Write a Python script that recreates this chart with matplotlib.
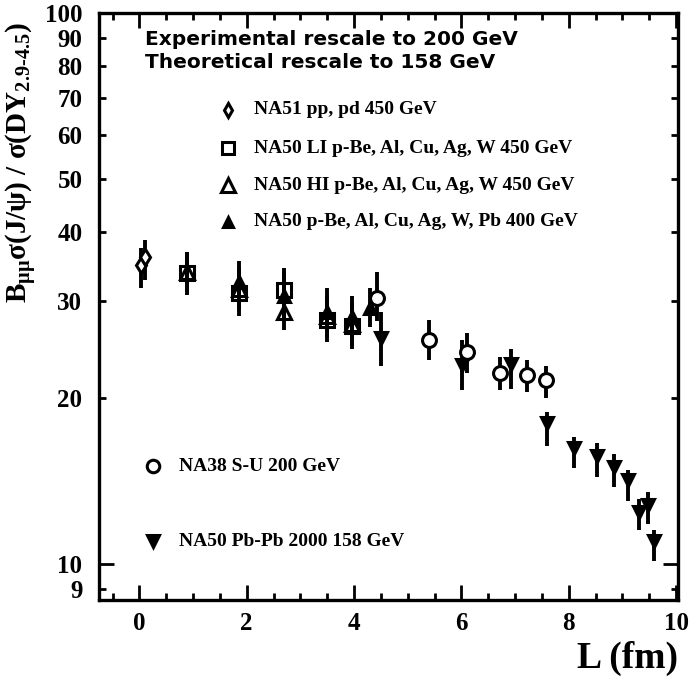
import numpy as np
import matplotlib
matplotlib.use('Agg')
import matplotlib.pyplot as plt
from matplotlib.ticker import FixedLocator, FixedFormatter

plt.rcParams['font.family'] = 'Liberation Serif'
plt.rcParams['font.weight'] = 'bold'
plt.rcParams['mathtext.fontset'] = 'custom'
plt.rcParams['mathtext.rm'] = 'Liberation Serif:bold'
plt.rcParams['mathtext.it'] = 'Liberation Serif:bold'
plt.rcParams['mathtext.bf'] = 'Liberation Serif:bold'

# NA51 pp, pd 450 GeV
na51_L = [0.03, 0.10]
na51_y = [34.9, 36.1]
na51_lo = [3.2, 3.3]
na51_hi = [2.6, 2.6]

# NA50 LI 450 GeV (open squares)
li_L = [0.89, 1.85, 2.69, 3.49, 3.96]
li_y = [33.7, 31.0, 31.4, 27.7, 27.0]
li_lo = [2.9, 2.8, 2.8, 2.4, 2.4]
li_hi = [3.2, 3.0, 3.0, 2.6, 2.6]

# NA50 HI 450 GeV (open triangles)
hi_L = [0.89, 1.85, 2.69, 3.49, 3.96]
hi_y = [33.9, 31.6, 28.7, 28.2, 27.3]
hi_lo = [2.8, 2.7, 2.1, 2.4, 2.4]
hi_hi = [3.0, 3.0, 2.9, 2.6, 2.6]

# NA50 400 GeV (filled triangles)
p400_L = [1.85, 2.69, 3.49, 3.96, 4.30]
p400_y = [32.5, 30.6, 28.7, 28.1, 29.2]
p400_lo = [3.2, 3.0, 2.8, 2.8, 2.3]
p400_hi = [3.0, 3.4, 3.0, 2.5, 2.5]

# NA38 S-U 200 GeV
na38_L = [4.42, 5.40, 6.10, 6.71, 7.23, 7.58]
na38_y = [30.4, 25.5, 24.2, 22.2, 22.0, 21.6]
na38_lo = [2.8, 2.1, 2.0, 1.5, 1.5, 1.6]
na38_hi = [3.5, 2.2, 2.0, 1.5, 1.4, 1.3]

# NA50 Pb-Pb 2000 158 GeV
pb_L = [4.50, 6.01, 6.92, 7.59, 8.10, 8.52, 8.85, 9.11, 9.30, 9.47, 9.58]
pb_y = [25.7, 23.0, 23.1, 18.0, 16.2, 15.7, 15.0, 14.2, 12.4, 12.8, 11.0]
pb_lo = [2.8, 2.3, 2.3, 1.6, 1.3, 1.3, 1.2, 1.2, 0.9, 1.0, 0.9]
pb_hi = [2.9, 2.5, 1.5, 0.9, 0.8, 0.9, 0.8, 0.6, 0.7, 0.7, 0.5]

ymajor = [10, 100]
yminor = [9, 20, 30, 40, 50, 60, 70, 80, 90]

fig = plt.figure(figsize=(6.93, 6.88), dpi=100)
ax = fig.add_axes([0.143, 0.128, 0.835, 0.853])

ebkw = dict(ls='none', color='black', ecolor='black', elinewidth=2.8,
            capsize=0, mec='black', mew=2.2)

ax.errorbar(na51_L, na51_y, yerr=[na51_lo, na51_hi], fmt='d', ms=8,
            mfc='white', **ebkw)
ax.errorbar(li_L, li_y, yerr=[li_lo, li_hi], fmt='s', ms=10,
            mfc='none', **ebkw)
ax.errorbar(hi_L, hi_y, yerr=[hi_lo, hi_hi], fmt='^', ms=10,
            mfc='none', **ebkw)
ax.errorbar(p400_L, p400_y, yerr=[p400_lo, p400_hi], fmt='^', ms=9,
            mfc='black', **ebkw)
ax.errorbar(na38_L, na38_y, yerr=[na38_lo, na38_hi], fmt='o', ms=10,
            mfc='white', **ebkw)
ax.errorbar(pb_L, pb_y, yerr=[pb_lo, pb_hi], fmt='v', ms=8.5,
            mfc='black', **ebkw)

ax.set_yscale('log')
ax.set_xlim(-0.75, 10.03)
ax.set_ylim(8.6, 100)

ax.yaxis.set_major_locator(FixedLocator(ymajor))
ax.yaxis.set_major_formatter(FixedFormatter([str(t) for t in ymajor]))
ax.yaxis.set_minor_locator(FixedLocator(yminor))
ax.yaxis.set_minor_formatter(FixedFormatter([str(t) for t in yminor]))
ax.set_xticks([0, 2, 4, 6, 8, 10])
ax.set_xticks(np.arange(-0.5, 10.0, 0.5), minor=True)

ax.tick_params(which='both', direction='in', top=True, right=True,
               width=2, labelsize=18)
ax.tick_params(which='major', length=11)
ax.tick_params(which='minor', length=5)
ax.tick_params(axis='x', which='both', pad=9)
ax.tick_params(axis='y', which='both', pad=12)
for lab in (ax.get_xticklabels() + ax.get_yticklabels()
            + ax.get_yticklabels(minor=True)):
    lab.set_fontweight('bold')
for s in ax.spines.values():
    s.set_linewidth(2.4)

ax.set_ylabel(r'B$_{\mu\mu}$σ(J/ψ) / σ(DY$_{2.9\text{-}4.5}$)',
              fontsize=21, fontweight='bold')
ax.yaxis.set_label_coords(-0.104, 0.746)
ax.set_xlabel('L (fm)', fontsize=27, fontweight='bold')
ax.xaxis.set_label_coords(1.0, -0.07)
ax.xaxis.label.set_horizontalalignment('right')

ax.text(0.08, 0.955, 'Experimental rescale to 200 GeV', transform=ax.transAxes,
        fontsize=14.5, fontweight='bold', family='DejaVu Sans', va='center')
ax.text(0.08, 0.915, 'Theoretical rescale to 158 GeV', transform=ax.transAxes,
        fontsize=14.5, fontweight='bold', family='DejaVu Sans', va='center')

legend_rows = [
    ('d', 'white', 7, 'NA51 pp, pd 450 GeV', 0.222, 0.835),
    ('s', 'white', 9, 'NA50 LI p-Be, Al, Cu, Ag, W 450 GeV', 0.222, 0.770),
    ('^', 'white', 10, 'NA50 HI p-Be, Al, Cu, Ag, W 450 GeV', 0.222, 0.707),
    ('^', 'black', 7, 'NA50 p-Be, Al, Cu, Ag, W, Pb 400 GeV', 0.222, 0.644),
    ('o', 'white', 9, 'NA38 S-U 200 GeV', 0.093, 0.228),
    ('v', 'black', 8, 'NA50 Pb-Pb 2000 158 GeV', 0.093, 0.100),
]
for m, fc, ms, label, lx, ly in legend_rows:
    ax.plot([lx], [ly], marker=m, ms=ms, mfc=fc, mec='black', mew=2.2,
            ls='none', transform=ax.transAxes, clip_on=False)
    ax.text(lx + 0.045, ly, label, transform=ax.transAxes, fontsize=14,
            fontweight='bold', va='center')

fig.savefig('out.png', dpi=100)
